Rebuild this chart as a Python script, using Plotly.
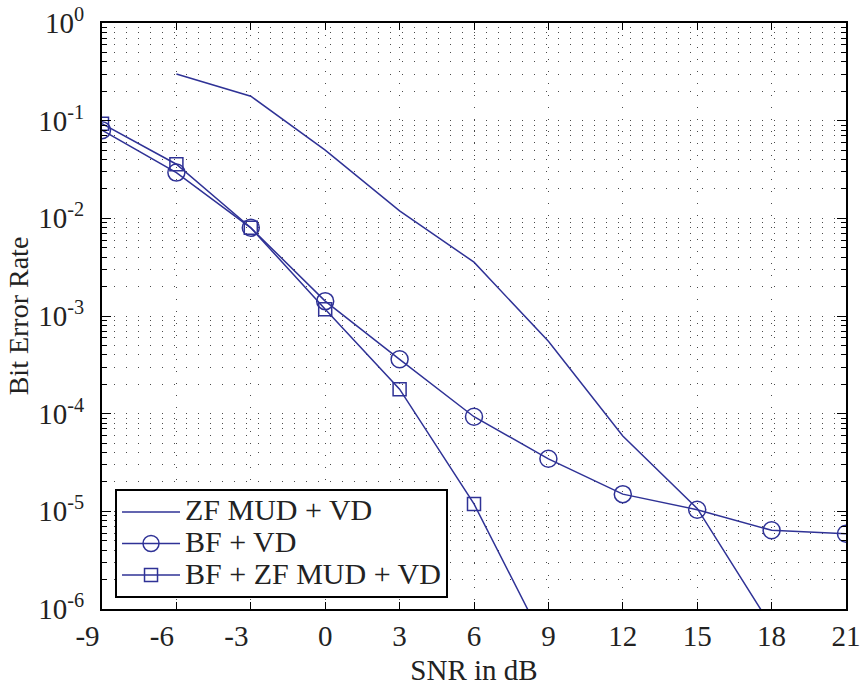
import plotly.graph_objects as go

# SNR points (dB)
snr = [-9, -6, -3, 0, 3, 6, 9, 12, 15, 18, 21]

# Bit error rates per receiver
ber_zf_mud_vd = [None, 0.30, 0.178, 0.050, 0.0119, 0.00356, 5.5e-4, 5.9e-5, 1.07e-5, 6.6e-7, None]
ber_bf_vd = [0.080, 0.0294, 0.0080, 1.42e-3, 3.6e-4, 9.3e-5, 3.45e-5, 1.5e-5, 1.04e-5, 6.4e-6, 5.9e-6]
ber_bf_zf_mud_vd = [0.093, 0.0358, 0.0080, 1.17e-3, 1.78e-4, 1.19e-5, 3.8e-7, None, None, None, None]

series_names = ["ZF MUD + VD", "BF + VD", "BF + ZF MUD + VD"]

x_tick_vals = [-9, -6, -3, 0, 3, 6, 9, 12, 15, 18, 21]
x_tick_text = ["-9", "-6", "-3", "0", "3", "6", "9", "12", "15", "18", "21"]
y_tick_exps = [-6, -5, -4, -3, -2, -1, 0]

LINE = "#2f3296"
FONT = "Liberation Serif"
TXT = "#222222"
NBSP = "\u00a0"
TICK_SIZE = 29
LEG_SIZE = 30

# negative labels are padded so the digit sits at the tick, as in MATLAB output
x_labels = [t + NBSP * 4 if t.startswith("-") else t for t in x_tick_text]
y_vals = [10.0 ** e for e in y_tick_exps]
y_labels = ["10<sup>%d</sup>" % e for e in y_tick_exps]


def leg_text(s):
    # legend rows are spaced by the legend font size; the label itself is drawn larger
    return '<span style="font-size:%dpx">%s</span>' % (LEG_SIZE, s)


fig = go.Figure()
fig.add_trace(go.Scatter(
    x=snr, y=ber_zf_mud_vd, name=leg_text(series_names[0]), mode="lines",
    line=dict(color=LINE, width=1.5), connectgaps=False,
))
fig.add_trace(go.Scatter(
    x=snr, y=ber_bf_vd, name=leg_text(series_names[1]), mode="lines+markers",
    line=dict(color=LINE, width=1.5),
    marker=dict(symbol="circle-open", size=17, color=LINE, line=dict(width=1.5, color=LINE)),
))
fig.add_trace(go.Scatter(
    x=snr, y=ber_bf_zf_mud_vd, name=leg_text(series_names[2]), mode="lines+markers",
    line=dict(color=LINE, width=1.5),
    marker=dict(symbol="square-open", size=13, color=LINE, line=dict(width=1.5, color=LINE)),
))

grid_dash = "1px,11px"
grid_col = "#4a4a4a"

fig.update_layout(
    width=860, height=686,
    margin=dict(l=102, r=14, t=23, b=77, autoexpand=False),
    paper_bgcolor="white", plot_bgcolor="white",
    font=dict(family=FONT, color=TXT, size=TICK_SIZE),
    showlegend=True,
    legend=dict(
        x=0.0175, y=0.0186, xanchor="left", yanchor="bottom",
        bgcolor="white", bordercolor="black", borderwidth=2,
        font=dict(family=FONT, size=22, color=TXT),
        itemwidth=58, tracegroupgap=0,
    ),
    xaxis=dict(
        range=[-9, 21], tickmode="array", tickvals=x_tick_vals, ticktext=x_labels,
        ticks="inside", ticklen=7, tickwidth=1, tickcolor="black",
        showline=True, linecolor="black", linewidth=2, mirror="ticks",
        showgrid=True, gridcolor=grid_col, gridwidth=1, griddash=grid_dash,
        zeroline=False, automargin=False, ticklabeloverflow="allow",
        tickfont=dict(family=FONT, size=TICK_SIZE, color=TXT),
        title=dict(text="SNR in dB", font=dict(family=FONT, size=29, color=TXT), standoff=15),
    ),
    yaxis=dict(
        type="log", range=[-6, 0], tickmode="array", tickvals=y_vals, ticktext=y_labels,
        ticks="inside", ticklen=9, tickwidth=1, tickcolor="black",
        showline=True, linecolor="black", linewidth=2, mirror="ticks",
        showgrid=True, gridcolor=grid_col, gridwidth=1, griddash=grid_dash,
        zeroline=False, automargin=False, ticklabeloverflow="allow",
        tickfont=dict(family=FONT, size=TICK_SIZE, color=TXT),
        ticklabelstandoff=10,
        minor=dict(dtick="D1", ticks="inside", ticklen=5, tickcolor="black", tickwidth=1,
                   showgrid=True, gridcolor=grid_col, gridwidth=1, griddash=grid_dash),
        title=dict(text="Bit Error Rate", font=dict(family=FONT, size=28, color=TXT), standoff=1),
    ),
)

fig.write_html("out.html")
